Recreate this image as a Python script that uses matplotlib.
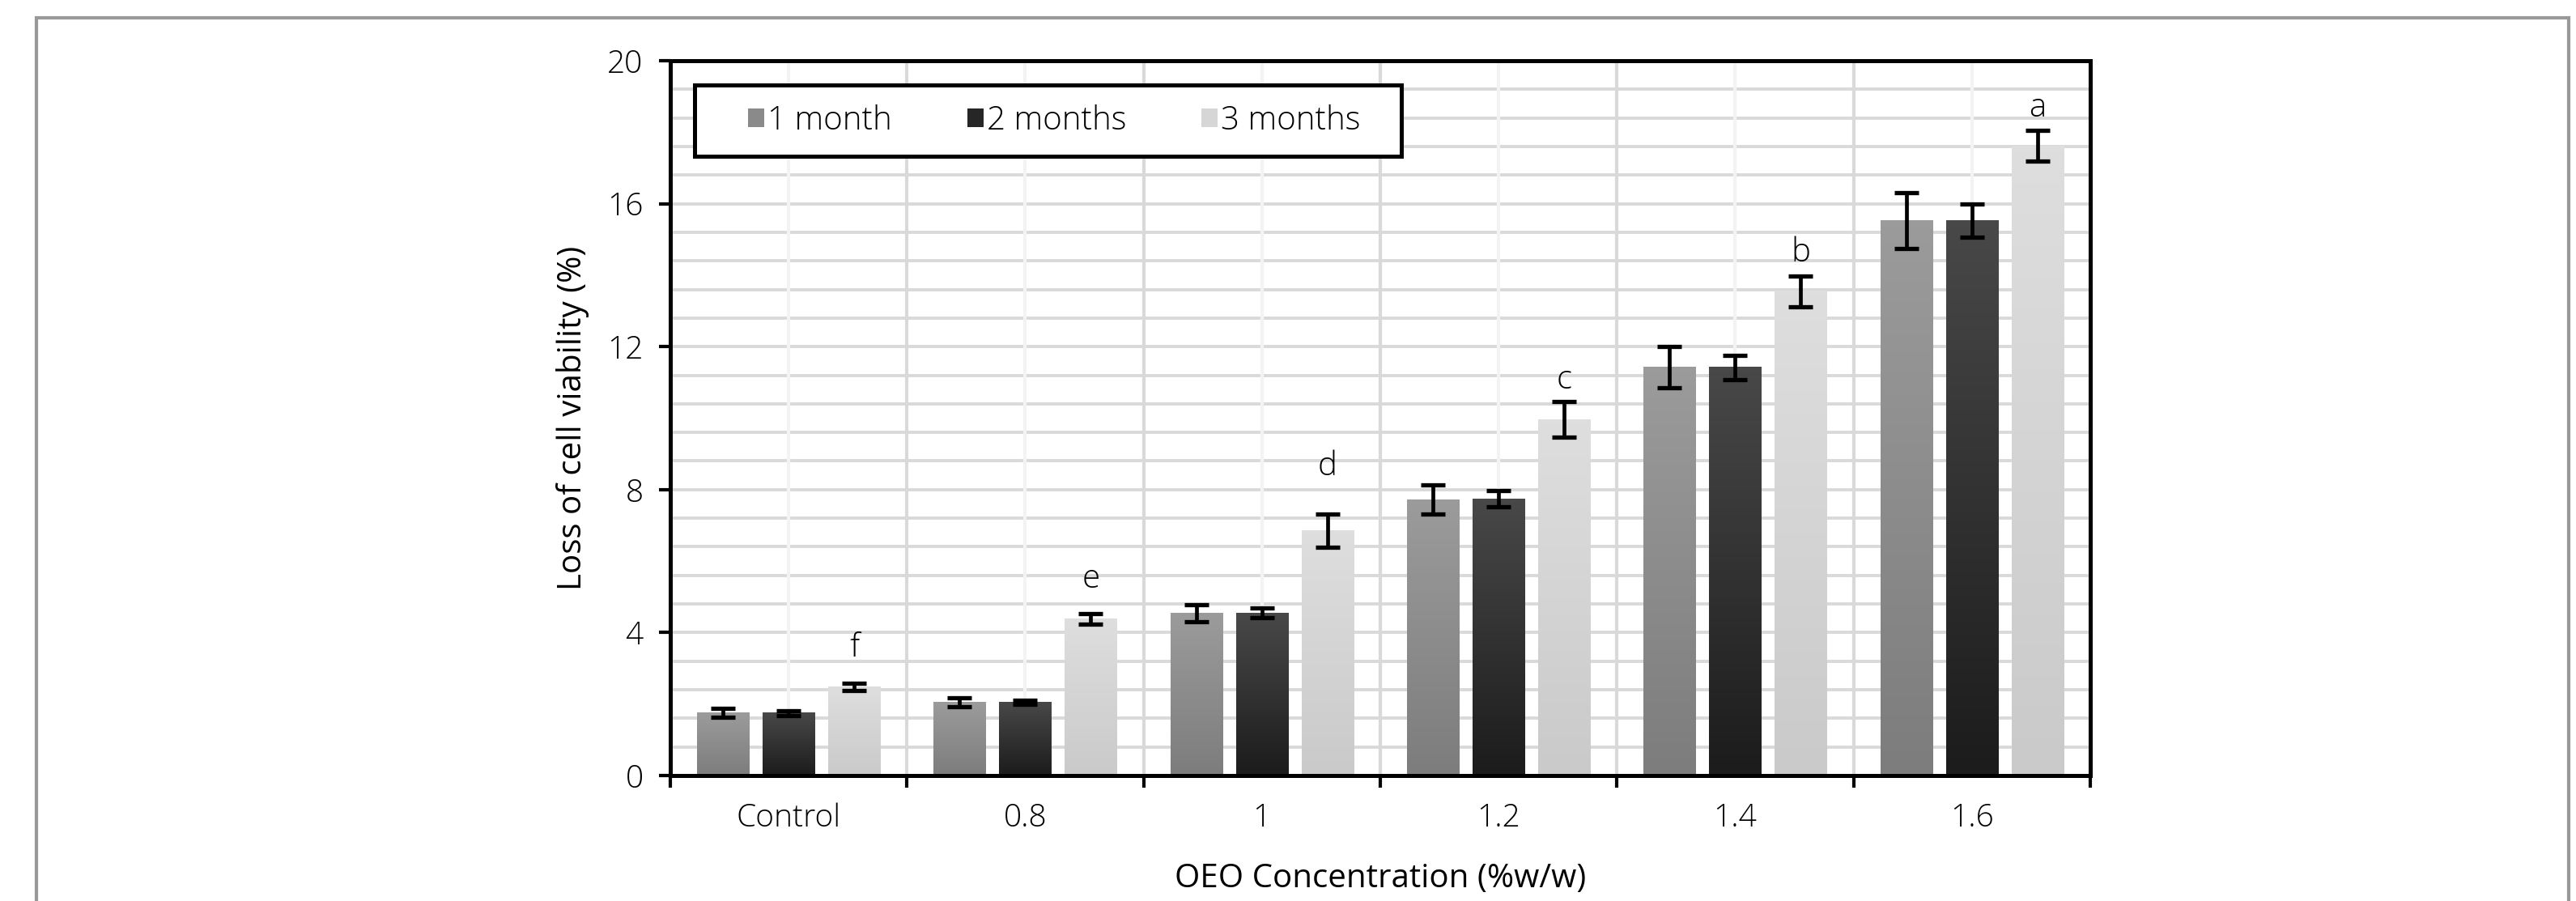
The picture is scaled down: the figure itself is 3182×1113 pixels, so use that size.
import numpy as np
import matplotlib.pyplot as plt
from matplotlib.patches import Patch, Rectangle
from matplotlib.colors import LinearSegmentedColormap
from matplotlib.ticker import MultipleLocator, FixedLocator, NullFormatter

# data
categories = ['Control', '0.8', '1', '1.2', '1.4', '1.6']
series = ['1 month', '2 months', '3 months']
month1 = [1.75, 2.05, 4.54, 7.72, 11.42, 15.52]
month2 = [1.75, 2.05, 4.55, 7.74, 11.42, 15.53]
month3 = [2.48, 4.38, 6.85, 9.96, 13.55, 17.62]
err1 = [0.12, 0.13, 0.23, 0.40, 0.58, 0.78]
err2 = [0.07, 0.06, 0.14, 0.23, 0.34, 0.47]
err3 = [0.10, 0.15, 0.46, 0.50, 0.43, 0.43]
letters = ['f', 'e', 'd', 'c', 'b', 'a']
letter_pad = [24, 23, 35, 12, 13, 12]  # points above the error cap

# gradient colours (bottom, top) and legend swatches
grads = [('#7d7d7d', '#9b9b9b'), ('#1c1c1c', '#484848'), ('#cacaca', '#dedede')]
swatch = ['#8a8a8a', '#262626', '#d6d6d6']

plt.rcParams['font.family'] = ['Open Sans', 'DejaVu Sans']
plt.rcParams['font.weight'] = 'light'
plt.rcParams['font.size'] = 28

fig = plt.figure(figsize=(31.82, 11.13), dpi=100)
ax = fig.add_axes([0.2602, 0.1393, 0.5512, 0.7933])

# outer grey frame of the figure panel
fig.patches.append(Rectangle((0.0141, -0.2), 0.9831, 1.1802, transform=fig.transFigure,
                             fill=False, edgecolor='#999999', linewidth=3))

x = np.arange(len(categories))
step = 0.277
width = 0.219
values = [month1, month2, month3]
errors = [err1, err2, err3]

for i, (vals, errs) in enumerate(zip(values, errors)):
    pos = x + (i - 1) * step
    bars = ax.bar(pos, vals, width, color=swatch[i], zorder=2)
    cmap = LinearSegmentedColormap.from_list('g%d' % i, list(grads[i]))
    for b in bars:
        b.set_visible(False)
        bx, bw, bh = b.get_x(), b.get_width(), b.get_height()
        ax.imshow(np.linspace(1, 0, 50).reshape(-1, 1), cmap=cmap, aspect='auto',
                  extent=[bx, bx + bw, 0, bh], zorder=2, interpolation='bicubic')
    ax.errorbar(pos, vals, yerr=errs, fmt='none', ecolor='black', elinewidth=3.4,
                capsize=11, capthick=3.8, zorder=3)

# significance letters above the 3-month bars
for xi, v, e, lab, pad in zip(x + step, month3, err3, letters, letter_pad):
    ax.annotate(lab, xy=(xi, v + e), xytext=(0, pad), textcoords='offset points',
                ha='center', va='baseline', fontsize=29)

ax.set_xlim(-0.5, len(categories) - 0.5)
ax.set_ylim(0, 20)

# grid: horizontal every 0.8, vertical at group borders, faint at group centres
ax.yaxis.set_major_locator(MultipleLocator(4))
ax.yaxis.set_minor_locator(MultipleLocator(0.8))
ax.grid(axis='y', which='both', color='#d9d9d9', linewidth=2.8, zorder=0)
for b in np.arange(-0.5, len(categories)):
    ax.axvline(b, color='#d9d9d9', linewidth=3, zorder=0.6)
for c in x:
    ax.axvline(c, color='#f3f3f3', linewidth=3, zorder=0.6)
ax.set_axisbelow(True)

ax.xaxis.set_major_locator(FixedLocator(np.arange(-0.5, len(categories))))
ax.xaxis.set_major_formatter(NullFormatter())
ax.xaxis.set_minor_locator(FixedLocator(x))
ax.set_xticklabels(categories, minor=True)
ax.tick_params(axis='x', which='major', direction='out', length=11, width=3)
ax.tick_params(axis='x', which='minor', length=0, pad=24)
ax.tick_params(axis='y', which='major', direction='out', length=10, width=3, pad=14)
ax.tick_params(axis='y', which='minor', length=0)

for s in ax.spines.values():
    s.set_linewidth(3.6)
    s.set_color('black')

ax.set_xlabel('OEO Concentration (%w/w)', fontsize=29, labelpad=26)
ax.set_ylabel('Loss of cell viability (%)', fontsize=29, labelpad=16)

# legend with a separate heavy box
ax.add_patch(Rectangle((0.017, 0.866), 0.498, 0.1, transform=ax.transAxes,
                       facecolor='white', edgecolor='black', linewidth=3.6, zorder=4.5))
handles = [Patch(facecolor=c, edgecolor='none') for c in swatch]
leg = ax.legend(handles, series, ncol=3, loc='center', bbox_to_anchor=(0.2705, 0.916),
                frameon=False, handlelength=0.5, handleheight=0.5, handletextpad=0.1,
                columnspacing=2.3, fontsize=29, borderaxespad=0)
leg.set_zorder(5)

fig.savefig('out.png', dpi=100, facecolor='white')
